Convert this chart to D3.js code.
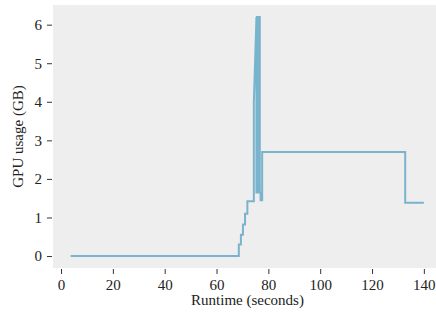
<!DOCTYPE html>
<html>
<head>
<meta charset="utf-8">
<script src="https://cdn.jsdelivr.net/npm/d3@7"></script>
<style>
  body { margin: 0; background: #fff; }
  svg { display: block; }
</style>
</head>
<body>
<div id="chart"></div>
<script>
// GPU memory over runtime
const runtime = [3.7, 68.6, 68.6, 69.4, 69.4, 70.2, 70.2, 71.0, 71.0, 71.9, 71.9, 74.4,
  74.4, 75.4, 75.4, 75.6, 75.6, 76.0, 76.0, 76.3, 76.3, 76.7, 76.7, 77.0, 77.0, 77.6, 77.6,
  132.8, 132.8, 140.0];
const gpuUsage = [0, 0, 0.3, 0.3, 0.55, 0.55, 0.82, 0.82, 1.1, 1.1, 1.42, 1.42,
  4.0, 6.2, 1.65, 1.65, 6.2, 6.2, 1.65, 1.65, 6.2, 6.2, 1.65, 1.65, 1.45, 1.45, 2.7,
  2.7, 1.38, 1.38];
const xTicks = [0, 20, 40, 60, 80, 100, 120, 140];
const yTicks = [0, 1, 2, 3, 4, 5, 6];

const W = 436, H = 323;
const margin = { top: 5, left: 53, right: -6, bottom: 55 };
const width = W - margin.left - margin.right;
const height = H - margin.top - margin.bottom;
const serif = '"Liberation Serif", "Times New Roman", serif';

const data = runtime.map((t, i) => ({ t: t, v: gpuUsage[i] }));

const svg = d3.select('#chart').append('svg')
    .attr('width', W)
    .attr('height', H);

const g = svg.append('g')
    .attr('transform', `translate(${margin.left}, ${margin.top})`);

const xScale = d3.scaleLinear().domain([-3.1, 147.0]).range([0, width]);
const yScale = d3.scaleLinear().domain([-0.31, 6.51]).range([height, 0]);

// plot background
g.append('rect')
    .attr('width', width)
    .attr('height', height)
    .attr('fill', '#eeeeee');

// axes, offset outward like the reference
const xAxis = g.append('g')
    .attr('transform', `translate(0, ${height + 1})`)
    .call(d3.axisBottom(xScale).tickValues(xTicks).tickSize(5).tickPadding(5));
xAxis.select('.domain').remove();

const yAxis = g.append('g')
    .attr('transform', 'translate(-1, 0)')
    .call(d3.axisLeft(yScale).tickValues(yTicks).tickFormat(d3.format('d')).tickSize(5).tickPadding(5));
yAxis.select('.domain').remove();

[xAxis, yAxis].forEach(a => {
    a.attr('font-family', serif).attr('font-size', 15);
    a.selectAll('.tick line').attr('stroke', '#333');
    a.selectAll('.tick text').attr('fill', '#222');
});

// line
const line = d3.line()
    .x(d => xScale(d.t))
    .y(d => yScale(d.v));

g.append('path')
    .datum(data)
    .attr('fill', 'none')
    .attr('stroke', '#7ab3cd')
    .attr('stroke-width', 2)
    .attr('d', line);

// axis labels
svg.append('text')
    .attr('x', margin.left + width / 2)
    .attr('y', 305)
    .attr('text-anchor', 'middle')
    .attr('font-family', serif)
    .attr('font-size', 15)
    .attr('fill', '#222')
    .text('Runtime (seconds)');

svg.append('text')
    .attr('transform', `translate(23, ${margin.top + height / 2}) rotate(-90)`)
    .attr('text-anchor', 'middle')
    .attr('font-family', serif)
    .attr('font-size', 15)
    .attr('fill', '#222')
    .text('GPU usage (GB)');
</script>
</body>
</html>
